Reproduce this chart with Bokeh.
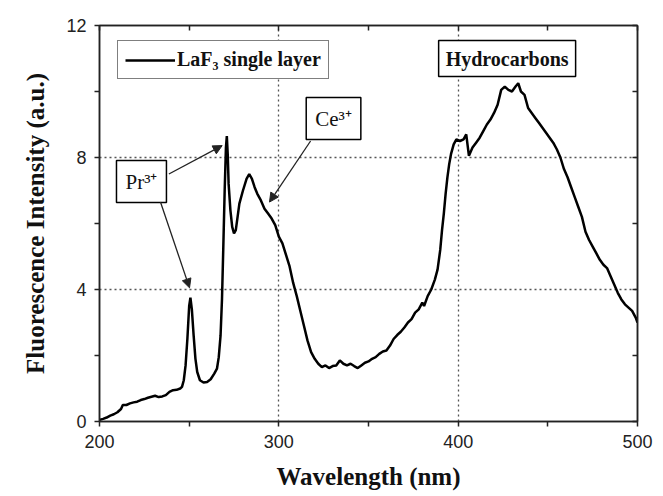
from bokeh.plotting import figure
from bokeh.models import (LinearAxis, FixedTicker, Legend, LegendItem, Arrow,
                          NormalHead, Label)
from bokeh.embed import file_html
from bokeh.resources import INLINE

# ---- data ----
wavelength = [200, 202, 204, 206, 208, 210, 212, 213, 215, 217, 219, 221, 223, 225, 227, 229,
              231, 233, 235, 237, 239, 241, 243, 245, 246, 247, 248, 249, 250, 250.7, 251.5,
              252.5, 253.5, 254.5, 256, 258, 260, 262, 264, 265.5, 266.5, 267.5, 268.3, 269,
              269.8, 270.5, 271, 271.5, 272, 273, 274, 275, 276, 277, 278, 280, 282, 283.5,
              285, 286.5, 288, 290, 292, 294, 296, 298, 300, 302, 304, 306, 308, 310, 312,
              314, 316, 318, 320, 322, 324, 326, 328, 330, 332, 334, 336, 338, 340, 342, 344,
              346, 348, 350, 352, 354, 356, 358, 360, 362, 364, 366, 368, 370, 372, 374, 376,
              378, 380, 381, 383, 385, 387, 388.5, 390, 391, 392, 393, 394, 395, 396, 397.5,
              399, 401, 403, 404.5, 406, 408, 410, 412, 414, 416, 418, 420, 422, 424, 426,
              428, 430, 432, 433.5, 435, 437, 439, 441, 443, 445, 447, 449, 451, 453, 455,
              457, 459, 461, 463, 465, 467, 469, 471, 473, 475, 477, 479, 481, 483, 485, 487,
              489, 491, 493, 495, 497, 499, 500]
intensity = [0.05, 0.08, 0.12, 0.18, 0.22, 0.28, 0.38, 0.50, 0.50, 0.55, 0.58, 0.60, 0.65, 0.68,
             0.72, 0.75, 0.78, 0.74, 0.76, 0.80, 0.90, 0.95, 0.96, 1.00, 1.05, 1.25, 1.70, 2.50,
             3.50, 3.75, 3.40, 2.60, 1.90, 1.50, 1.25, 1.18, 1.20, 1.28, 1.45, 1.60, 1.95, 2.60,
             3.70, 5.20, 7.00, 8.30, 8.65, 8.10, 7.20, 6.40, 5.90, 5.70, 5.80, 6.20, 6.60, 7.00,
             7.35, 7.50, 7.35, 7.10, 6.90, 6.70, 6.45, 6.30, 6.15, 5.95, 5.60, 5.40, 5.05, 4.70,
             4.20, 3.80, 3.35, 2.90, 2.45, 2.10, 1.90, 1.75, 1.65, 1.70, 1.62, 1.68, 1.70, 1.85,
             1.75, 1.70, 1.75, 1.68, 1.62, 1.70, 1.78, 1.82, 1.90, 1.95, 2.05, 2.12, 2.15, 2.30,
             2.50, 2.62, 2.72, 2.85, 3.00, 3.10, 3.30, 3.40, 3.60, 3.50, 3.80, 4.00, 4.30, 4.60,
             5.20, 5.80, 6.30, 6.90, 7.40, 7.80, 8.10, 8.40, 8.55, 8.50, 8.55, 8.70, 8.05, 8.30,
             8.45, 8.60, 8.80, 9.00, 9.15, 9.35, 9.60, 10.05, 10.15, 10.05, 10.00, 10.15, 10.25,
             10.00, 9.90, 9.50, 9.35, 9.20, 9.05, 8.90, 8.75, 8.60, 8.45, 8.25, 8.00, 7.65, 7.40,
             7.10, 6.80, 6.50, 6.20, 5.75, 5.50, 5.30, 5.10, 4.90, 4.75, 4.65, 4.40, 4.15, 3.90,
             3.70, 3.55, 3.45, 3.35, 3.15, 3.00]

x_major = [200, 300, 400, 500]
x_minor = [250, 350, 450]
y_major = [0, 4, 8, 12]
y_minor = [2, 6, 10]
x_grid = [300, 400]
y_grid = [4, 8]

series_label = "LaF\u2083 single layer"

SERIF = "Liberation Serif"
SANS = "Liberation Sans"
DARK = "#222222"

p = figure(width=655, height=495, x_range=(200, 500), y_range=(0, 12),
           output_backend="svg", toolbar_location=None,
           min_border_left=99, min_border_right=18, min_border_top=25, min_border_bottom=74)
p.background_fill_color = "white"
p.border_fill_color = "white"
p.outline_line_color = DARK
p.outline_line_width = 1.5

# ---- axes ----
xa = p.below[0]
ya = p.left[0]
xa.ticker = FixedTicker(ticks=x_major, minor_ticks=x_minor)
ya.ticker = FixedTicker(ticks=y_major, minor_ticks=y_minor)
for ax in (xa, ya):
    ax.axis_line_color = DARK
    ax.axis_line_width = 1.5
    ax.major_tick_line_color = DARK
    ax.minor_tick_line_color = DARK
    ax.major_tick_line_width = 1.5
    ax.minor_tick_line_width = 1.5
    ax.major_tick_in = 0
    ax.minor_tick_in = 0
    ax.major_tick_out = 5
    ax.minor_tick_out = 5
    ax.major_label_text_font = SANS
    ax.major_label_text_font_size = "18px"
    ax.major_label_text_color = DARK
    ax.axis_label_text_font = SERIF
    ax.axis_label_text_font_style = "bold"
    ax.axis_label_text_font_size = "25px"
    ax.axis_label_text_color = "#111111"
xa.major_label_standoff = 8
xa.axis_label_standoff = 12
ya.major_label_standoff = 8
ya.axis_label_standoff = 14
xa.axis_label = "Wavelength (nm)"
ya.axis_label = "Fluorescence Intensity (a.u.)"

top = LinearAxis(ticker=FixedTicker(ticks=x_major, minor_ticks=x_minor))
right = LinearAxis(ticker=FixedTicker(ticks=y_major, minor_ticks=y_minor))
for ax in (top, right):
    ax.axis_line_color = DARK
    ax.axis_line_width = 1.5
    ax.major_tick_line_color = DARK
    ax.minor_tick_line_color = DARK
    ax.major_tick_line_width = 1.5
    ax.minor_tick_line_width = 1.5
    ax.major_tick_in = 5
    ax.minor_tick_in = 5
    ax.major_tick_out = 0
    ax.minor_tick_out = 0
    ax.major_label_text_color = None
    ax.major_label_text_font_size = "1px"
    ax.major_label_standoff = 0
p.add_layout(top, "above")
p.add_layout(right, "right")

# ---- grid ----
p.xgrid.ticker = FixedTicker(ticks=x_grid)
p.ygrid.ticker = FixedTicker(ticks=y_grid)
for g in (p.xgrid, p.ygrid):
    g.grid_line_color = "#555555"
    g.grid_line_width = 1.3
    g.grid_line_dash = "2 3"

# ---- spectrum ----
r = p.line(wavelength, intensity, line_color="black", line_width=2.5)

legend = Legend(items=[LegendItem(label=series_label, renderers=[r])],
                location=(18, 342), orientation="vertical")
legend.border_line_color = "black"
legend.border_line_width = 1.5
legend.background_fill_alpha = 1.0
legend.padding = 7
legend.spacing = 0
legend.glyph_width = 50
legend.glyph_height = 20
legend.label_standoff = 2
legend.label_text_font = SERIF
legend.label_text_font_style = "bold"
legend.label_text_font_size = "20px"
legend.label_text_color = "#111111"
p.add_layout(legend)

# ---- annotations ----
def box_label(x, y, text, bold=False, pad=8, size="20px"):
    lab = Label(x=x, y=y, text=text, text_align="center", text_baseline="middle",
                text_font=SERIF, text_font_size=size,
                text_font_style="bold" if bold else "normal", text_color="#111111",
                border_line_color="black", border_line_width=1.5,
                background_fill_color="white", padding=pad)
    p.add_layout(lab)

box_label(223.4, 7.27, "Pr\u00b3\u207a", pad=9, size="21px")
box_label(330.5, 9.18, "Ce\u00b3\u207a", pad=9, size="21px")
box_label(427.3, 11.0, "Hydrocarbons", bold=True, pad=7)

def arrow(x0, y0, x1, y1):
    p.add_layout(Arrow(x_start=x0, y_start=y0, x_end=x1, y_end=y1,
                       line_color=DARK, line_width=1.3,
                       end=NormalHead(size=9, fill_color=DARK, line_color=DARK)))

arrow(238.7, 7.50, 268.4, 8.36)
arrow(234.0, 6.65, 250.2, 4.05)
arrow(317.7, 8.50, 294.8, 6.65)

open("out.html", "w").write(file_html(p, INLINE))
